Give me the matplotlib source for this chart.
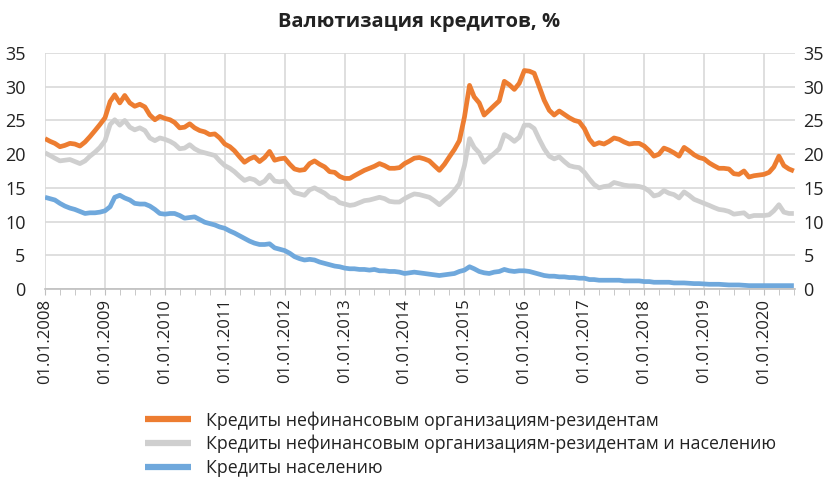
import matplotlib
matplotlib.use("Agg")
import matplotlib.pyplot as plt
import pandas as pd

plt.rcParams['font.family'] = ['Open Sans', 'DejaVu Sans']

title = "Валютизация кредитов, %"
series_names = [
    "Кредиты нефинансовым организациям-резидентам",
    "Кредиты нефинансовым организациям-резидентам и населению",
    "Кредиты населению",
]
dates = pd.date_range("2008-01-01", "2020-07-01", freq="MS")

corp = [
    22.3, 21.9, 21.6, 21.1, 21.3, 21.6, 21.5, 21.2, 21.8, 22.6, 23.5, 24.4,
    25.4, 27.8, 28.8, 27.6, 28.7, 27.6, 27.1, 27.4, 27.0, 25.8, 25.1, 25.6,
    25.3, 25.1, 24.7, 23.9, 24.0, 24.5, 23.9, 23.5, 23.3, 22.9, 23.0, 22.4,
    21.5, 21.1, 20.5, 19.6, 18.8, 19.3, 19.6, 18.9, 19.5, 20.4, 19.1, 19.3,
    19.4, 18.5, 17.8, 17.6, 17.7, 18.6, 19.0, 18.5, 18.1, 17.4, 17.3, 16.7,
    16.4, 16.4, 16.8, 17.2, 17.6, 17.9, 18.2, 18.6, 18.3, 17.9, 17.9, 18.0,
    18.6, 19.0, 19.4, 19.5, 19.3, 19.0, 18.3, 17.6, 18.5, 19.6, 20.7, 22.0,
    25.5, 30.2, 28.5, 27.6, 25.8, 26.5, 27.2, 27.9, 30.8, 30.3, 29.6, 30.5,
    32.4, 32.3, 32.0, 30.0, 28.0, 26.5, 25.8, 26.4, 25.9, 25.4, 25.0, 24.8,
    23.8, 22.2, 21.4, 21.7, 21.5, 21.9, 22.4, 22.2, 21.8, 21.5, 21.6, 21.6,
    21.2, 20.5, 19.7, 20.0, 20.9, 20.6, 20.2, 19.7, 21.0, 20.5, 19.9, 19.5,
    19.3, 18.7, 18.3, 17.9, 17.9, 17.8, 17.1, 17.0, 17.5, 16.6, 16.8, 16.9,
    17.0, 17.3, 18.1, 19.7, 18.3, 17.8, 17.5,
]
total = [
    20.2, 19.8, 19.4, 19.0, 19.1, 19.2, 18.9, 18.6, 19.0, 19.7, 20.3, 21.0,
    22.0, 24.4, 25.1, 24.3, 25.0, 24.0, 23.6, 23.9, 23.5, 22.4, 22.0, 22.4,
    22.2, 21.9, 21.5, 20.8, 20.9, 21.4, 20.8, 20.4, 20.2, 20.0, 19.8, 19.0,
    18.3, 17.9, 17.4, 16.7, 16.1, 16.4, 16.2, 15.6, 16.0, 16.9, 16.0, 15.9,
    16.0, 15.1, 14.3, 14.1, 13.9, 14.7, 15.0, 14.6, 14.2, 13.6, 13.4, 12.8,
    12.6, 12.4, 12.5, 12.8, 13.1, 13.2, 13.4, 13.6, 13.4, 13.0, 12.9, 12.9,
    13.4, 13.8, 14.1, 14.0, 13.8, 13.6, 13.1, 12.5, 13.2, 13.8, 14.6, 15.6,
    18.3, 22.3, 21.0, 20.2, 18.8, 19.5, 20.1, 20.8, 22.9, 22.5, 21.9, 22.5,
    24.3, 24.3, 23.8, 22.2, 20.8, 19.7, 19.3, 19.6, 18.9, 18.3, 18.1, 18.0,
    17.3, 16.3, 15.5, 15.0, 15.2, 15.3, 15.8, 15.6, 15.4, 15.3, 15.3, 15.2,
    15.0, 14.5, 13.8, 14.0, 14.6, 14.2, 14.0, 13.5, 14.4, 13.9, 13.3, 13.0,
    12.7, 12.4, 12.1, 11.8, 11.7, 11.5, 11.1, 11.2, 11.3, 10.7, 10.9, 10.9,
    10.9, 11.0, 11.6, 12.5, 11.4, 11.2, 11.2,
]
retail = [
    13.6, 13.4, 13.2, 12.7, 12.3, 12.0, 11.8, 11.5, 11.2, 11.3, 11.3, 11.4,
    11.6, 12.2, 13.6, 13.9, 13.5, 13.2, 12.7, 12.6, 12.6, 12.3, 11.8, 11.2,
    11.1, 11.2, 11.2, 10.9, 10.5, 10.6, 10.7, 10.3, 9.9, 9.7, 9.5, 9.2,
    9.0, 8.6, 8.3, 7.9, 7.5, 7.1, 6.8, 6.6, 6.6, 6.7, 6.1, 5.9,
    5.7, 5.3, 4.8, 4.5, 4.3, 4.4, 4.3, 4.0, 3.8, 3.6, 3.4, 3.3,
    3.1, 3.0, 3.0, 2.9, 2.9, 2.8, 2.9, 2.7, 2.7, 2.6, 2.6, 2.5,
    2.3, 2.4, 2.5, 2.4, 2.3, 2.2, 2.1, 2.0, 2.1, 2.2, 2.3, 2.6,
    2.8, 3.3, 3.0, 2.6, 2.4, 2.3, 2.5, 2.6, 2.9, 2.7, 2.6, 2.7,
    2.7, 2.6, 2.4, 2.2, 2.0, 1.9, 1.9, 1.8, 1.8, 1.7, 1.7, 1.6,
    1.6, 1.4, 1.4, 1.3, 1.3, 1.3, 1.3, 1.3, 1.2, 1.2, 1.2, 1.2,
    1.1, 1.1, 1.0, 1.0, 1.0, 1.0, 0.9, 0.9, 0.9, 0.85, 0.8, 0.8,
    0.75, 0.7, 0.7, 0.7, 0.65, 0.6, 0.6, 0.6, 0.55, 0.5, 0.5, 0.5,
    0.5, 0.5, 0.5, 0.5, 0.5, 0.5, 0.5,
]
y_ticks = [0, 5, 10, 15, 20, 25, 30, 35]
year_ticks = pd.date_range("2008-01-01", "2020-01-01", freq="YS")
tick_labels = [d.strftime("%d.%m.%Y") for d in year_ticks]

colors = ["#ED7D31", "#CFCFCF", "#6FA8DC"]

fig = plt.figure(figsize=(8.38, 4.79), dpi=100)
ax = fig.add_axes([45 / 838, 1 - 289 / 479, 750 / 838, 236 / 479])

for vals, c, name in zip([corp, total, retail], colors, series_names):
    ax.plot(dates, vals, color=c, lw=3.4, label=name, solid_capstyle="butt",
            solid_joinstyle="round")

ax.set_ylim(0, 35)
ax.set_xlim(dates[0], pd.Timestamp("2020-07-08"))
ax.set_yticks(y_ticks)
ax.set_xticks(year_ticks)
ax.set_xticklabels(tick_labels, rotation=90, fontsize=12, color="#222222")
ax.set_xticks(pd.date_range("2008-01-01", "2020-07-01", freq="QS"), minor=True)
ax.tick_params(axis="x", which="both", length=4, color="#BFBFBF", pad=3, direction="out")
ax.tick_params(axis="y", length=0, labelsize=13, pad=14, colors="#222222")
ax.grid(True, which="major", color="#D9D9D9", lw=1.2)
ax.set_axisbelow(True)
for s in ["top", "left", "right"]:
    ax.spines[s].set_visible(False)
ax.spines["bottom"].set_color("#BFBFBF")
ax.spines["bottom"].set_linewidth(1.2)

ax2 = ax.twinx()
ax2.set_ylim(0, 35)
ax2.set_yticks(y_ticks)
ax2.tick_params(axis="y", length=0, labelsize=13, pad=6, colors="#222222")
for s in ax2.spines.values():
    s.set_visible(False)

fig.text(0.5, 1 - 22 / 479, title, ha="center", va="center",
         fontsize=14.5, fontweight="bold", color="#222222")

handles, labels = ax.get_legend_handles_labels()
leg = fig.legend(handles, labels, loc="upper left", bbox_to_anchor=(138 / 838, 1 - 404 / 479),
                 frameon=False, fontsize=12.8, handlelength=2.6, handletextpad=0.8,
                 labelspacing=0.3, borderaxespad=0, labelcolor="#222222")
for h in leg.get_lines():
    h.set_linewidth(4.5)

fig.savefig("out.png", dpi=100)
